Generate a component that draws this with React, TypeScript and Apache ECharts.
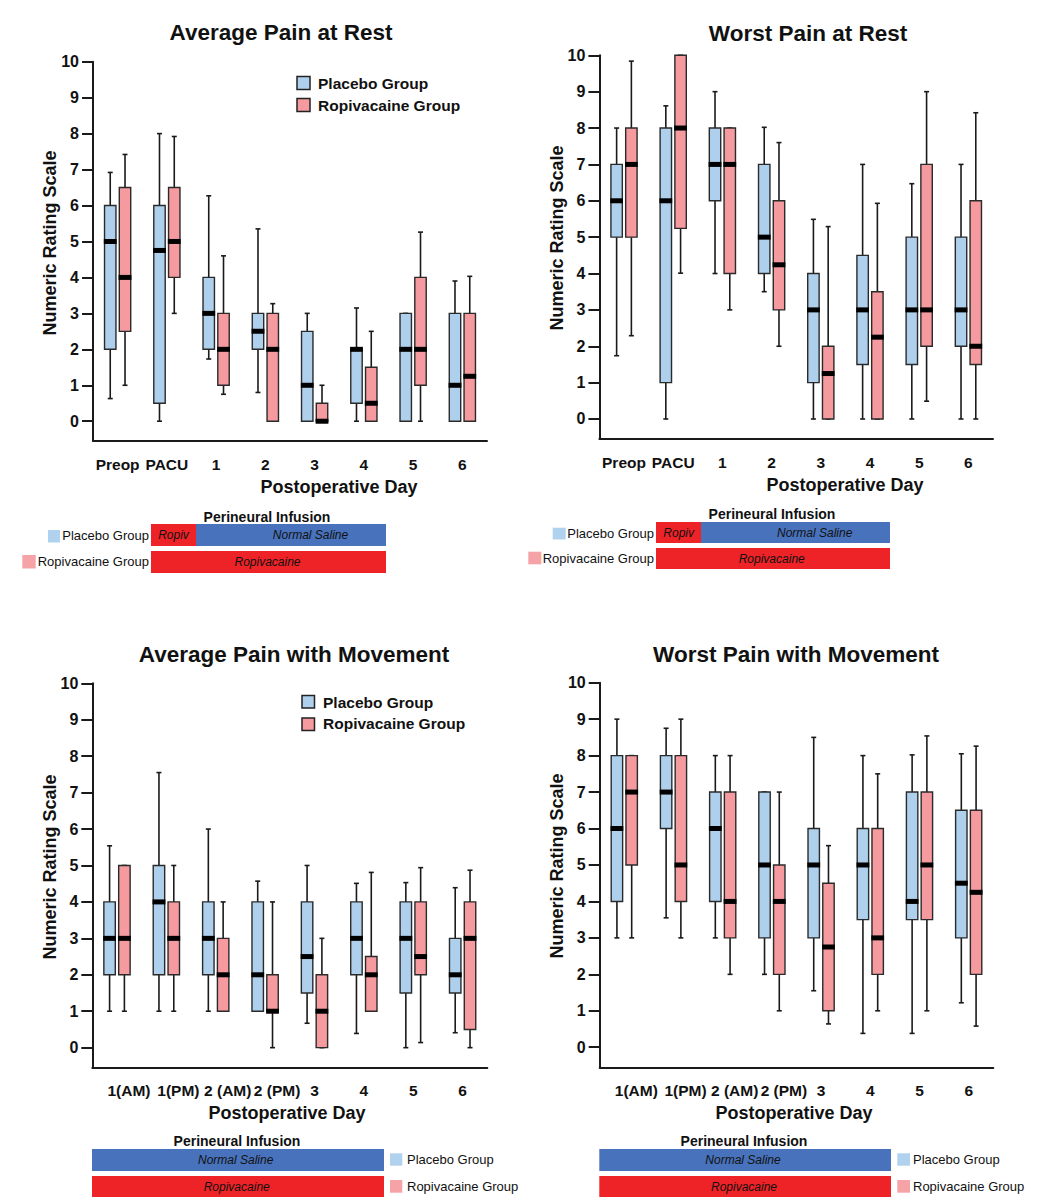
import React, { useEffect, useRef } from "react";
import * as echarts from "echarts";

const FONT = '"Liberation Sans", Arial, Helvetica, sans-serif';

// Categories / ticks
const restCategories = ["Preop", "PACU", "1", "2", "3", "4", "5", "6"];
const movementCategories = ["1(AM)", "1(PM)", "2 (AM)", "2 (PM)", "3", "4", "5", "6"];
const yTickValues = [0, 1, 2, 3, 4, 5, 6, 7, 8, 9, 10];

// Box data: [low whisker, Q1, median, Q3, high whisker]
const avgRestPlacebo = [
  [0.63, 2, 5, 6, 6.92], [0, 0.5, 4.75, 6, 8], [1.73, 2, 3, 4, 6.27], [0.8, 2, 2.5, 3, 5.35],
  [0, 0, 1, 2.5, 3], [0, 0.5, 2, 2, 3.15], [0, 0, 2, 3, 3], [0, 0, 1, 3, 3.9],
];
const avgRestRopivacaine = [
  [1, 2.5, 4, 6.5, 7.42], [3, 4, 5, 6.5, 7.92], [0.75, 1, 2, 3, 4.6], [0, 0, 2, 3, 3.27],
  [0, 0, 0, 0.5, 1], [0, 0, 0.5, 1.5, 2.5], [0, 1, 2, 4, 5.26], [0, 0, 1.25, 3, 4.03],
];
const worstRestPlacebo = [
  [1.74, 5, 6, 7, 8], [0, 1, 6, 8, 8.61], [4, 6, 7, 8, 9], [3.5, 4, 5, 7, 8.02],
  [0, 1, 3, 4, 5.49], [0, 1.5, 3, 4.5, 7], [0, 1.5, 3, 5, 6.47], [0, 2, 3, 5, 7],
];
const worstRestRopivacaine = [
  [2.29, 5, 7, 8, 9.84], [4.01, 5.24, 8, 10, 10], [3, 4, 7, 8, 8], [2, 3, 4.24, 6, 7.6],
  [0, 0, 1.25, 2, 5.29], [0, 0, 2.25, 3.5, 5.93], [0.49, 2, 3, 7, 9], [0, 1.5, 2, 6, 8.42],
];
const avgMovePlacebo = [
  [1, 2, 3, 4, 5.54], [1, 2, 4, 5, 7.55], [1, 2, 3, 4, 6], [1, 1, 2, 4, 4.57],
  [0.67, 1.5, 2.5, 4, 5], [0.39, 2, 3, 4, 4.51], [0, 1.5, 3, 4, 4.53], [0.41, 1.5, 2, 3, 4.39],
];
const avgMoveRopivacaine = [
  [1, 2, 3, 5, 5], [1, 2, 3, 4, 5], [1, 1, 2, 3, 4], [0, 1, 1, 2, 4],
  [0, 0, 1, 2, 3], [1, 1, 2, 2.5, 4.81], [0.14, 2, 2.5, 4, 4.94], [0, 0.5, 3, 4, 4.87],
];
const worstMovePlacebo = [
  [3, 4, 6, 8, 9], [3.55, 6, 7, 8, 8.75], [3, 4, 6, 7, 8], [2, 3, 5, 7, 7],
  [1.55, 3, 5, 6, 8.5], [0.38, 3.5, 5, 6, 8], [0.38, 3.5, 4, 7, 8.02], [1.22, 3, 4.5, 6.5, 8.05],
];
const worstMoveRopivacaine = [
  [3, 5, 7, 8, 8], [3, 4, 5, 8, 9], [2, 3, 4, 7, 8], [1, 2, 4, 5, 7],
  [0.64, 1, 2.75, 4.5, 5.53], [1, 2, 3, 6, 7.5], [1, 3.5, 5, 7, 8.54], [0.58, 2, 4.25, 6.5, 8.26],
];

const titles = ["Average Pain at Rest", "Worst Pain at Rest", "Average Pain with Movement", "Worst Pain with Movement"];
const groupNames = ["Placebo Group", "Ropivacaine Group"];

const BLUE_BOX = "#aed0ec";
const PINK_BOX = "#f59a9e";
const BAR_BLUE = "#4872bb";
const BAR_RED = "#ed2327";
const INK = "#111";

const panels = [
  { cats: restCategories, placebo: avgRestPlacebo, ropi: avgRestRopivacaine, grid: { left: 93, top: 61.7, width: 394, height: 379.3 } },
  { cats: restCategories, placebo: worstRestPlacebo, ropi: worstRestRopivacaine, grid: { left: 599.4, top: 55.3, width: 393.6, height: 383.7 } },
  { cats: movementCategories, placebo: avgMovePlacebo, ropi: avgMoveRopivacaine, grid: { left: 92.3, top: 683.3, width: 395, height: 384.4 } },
  { cats: movementCategories, placebo: worstMovePlacebo, ropi: worstMoveRopivacaine, grid: { left: 599.7, top: 682.7, width: 393.6, height: 384.6 } },
];

function makeRender(offsetFrac: number, widthFrac: number, fill: string) {
  return (params: any, api: any) => {
    const idx = api.value(0);
    const low = api.coord([idx, api.value(1)]);
    const q1 = api.coord([idx, api.value(2)]);
    const med = api.coord([idx, api.value(3)]);
    const q3 = api.coord([idx, api.value(4)]);
    const high = api.coord([idx, api.value(5)]);
    const band = api.size([1, 0])[0];
    const cx = low[0] + offsetFrac * band;
    const w = widthFrac * band;
    const cap = 5;
    const ls = { stroke: "#1a1a1a", lineWidth: 1.6 };
    return {
      type: "group",
      children: [
        { type: "line", shape: { x1: cx, y1: high[1], x2: cx, y2: q3[1] }, style: ls },
        { type: "line", shape: { x1: cx, y1: q1[1], x2: cx, y2: low[1] }, style: ls },
        { type: "line", shape: { x1: cx - cap / 2, y1: high[1], x2: cx + cap / 2, y2: high[1] }, style: ls },
        { type: "line", shape: { x1: cx - cap / 2, y1: low[1], x2: cx + cap / 2, y2: low[1] }, style: ls },
        {
          type: "rect",
          shape: { x: cx - w / 2, y: q3[1], width: w, height: q1[1] - q3[1] },
          style: { fill, stroke: "#2a2a2a", lineWidth: 1.4 },
        },
        {
          type: "rect",
          shape: { x: cx - w / 2 - 0.7, y: med[1] - 2.5, width: w + 1.4, height: 5 },
          style: { fill: "#000" },
        },
      ],
    };
  };
}

function txt(text: string, x: number, y: number, size: number, opts: any = {}) {
  return {
    type: "text",
    x,
    y,
    rotation: opts.rotation || 0,
    silent: true,
    style: {
      text,
      fill: opts.fill || INK,
      font: `${opts.italic ? "italic " : ""}${opts.bold ? "bold " : ""}${size}px ${FONT}`,
      align: opts.align || "center",
      verticalAlign: "middle",
    },
  };
}

function rect(x: number, y: number, w: number, h: number, fill: string, stroke?: string) {
  return {
    type: "rect",
    silent: true,
    shape: { x, y, width: w, height: h },
    style: stroke ? { fill, stroke, lineWidth: 1.5 } : { fill },
  };
}

export default function App() {
  const ref = useRef<HTMLDivElement>(null);
  useEffect(() => {
    document.body.style.margin = "0";
    if (!ref.current) return;
    const chart = echarts.init(ref.current, undefined, { renderer: "svg" });

    const grids: any[] = [];
    const xAxes: any[] = [];
    const yAxes: any[] = [];
    const series: any[] = [];

    panels.forEach((p, i) => {
      grids.push({ ...p.grid, containLabel: false, outerBoundsMode: "none" });
      const isMove = p.cats === movementCategories;
      xAxes.push({
        type: "category",
        gridIndex: i,
        data: p.cats,
        boundaryGap: true,
        axisLine: { onZero: false, lineStyle: { color: "#1a1a1a", width: 2 } },
        axisTick: { alignWithLabel: true, length: 10, lineStyle: { color: "#1a1a1a", width: 2 } },
        axisLabel: {
          interval: 0,
          margin: 15,
          color: INK,
          fontFamily: FONT,
          fontWeight: "bold",
          fontSize: 15.5,
          formatter: (v: string) => (isMove && v.indexOf("(") >= 0 ? `{p|${v}}` : v),
          rich: { p: { padding: [0, 0, 0, 24], fontFamily: FONT, fontWeight: "bold", fontSize: 15.5, color: INK } },
        },
        splitLine: { show: false },
      });
      yAxes.push({
        type: "value",
        gridIndex: i,
        min: -0.55,
        max: 10,
        axisLine: { show: true, lineStyle: { color: "#1a1a1a", width: 2 } },
        axisTick: { show: true, length: 11, customValues: yTickValues, lineStyle: { color: "#1a1a1a", width: 2 } },
        axisLabel: { customValues: yTickValues, margin: 14, color: INK, fontFamily: FONT, fontWeight: "bold", fontSize: 16 },
        splitLine: { show: false },
      });
      const toRows = (arr: number[][]) => arr.map((b, k) => [k, ...b]);
      series.push({
        type: "custom",
        name: groupNames[0],
        xAxisIndex: i,
        yAxisIndex: i,
        clip: false,
        encode: { x: 0, y: [1, 2, 3, 4, 5] },
        data: toRows(p.placebo),
        renderItem: makeRender(-0.15, 0.232, BLUE_BOX),
      });
      series.push({
        type: "custom",
        name: groupNames[1],
        xAxisIndex: i,
        yAxisIndex: i,
        clip: false,
        encode: { x: 0, y: [1, 2, 3, 4, 5] },
        data: toRows(p.ropi),
        renderItem: makeRender(0.15, 0.232, PINK_BOX),
      });
    });

    const g: any[] = [];
    // Titles
    g.push(txt(titles[0], 281, 32, 22.5, { bold: true }));
    g.push(txt(titles[1], 808, 33, 22.5, { bold: true }));
    g.push(txt(titles[2], 294, 654, 22.5, { bold: true }));
    g.push(txt(titles[3], 796, 654, 22.5, { bold: true }));
    // Axis names
    const yName = "Numeric Rating Scale";
    const xName = "Postoperative Day";
    g.push(txt(yName, 50, 243, 18, { bold: true, rotation: Math.PI / 2 }));
    g.push(txt(yName, 557, 238, 18, { bold: true, rotation: Math.PI / 2 }));
    g.push(txt(yName, 50, 867, 18, { bold: true, rotation: Math.PI / 2 }));
    g.push(txt(yName, 557, 866, 18, { bold: true, rotation: Math.PI / 2 }));
    g.push(txt(xName, 339, 487, 18, { bold: true }));
    g.push(txt(xName, 845, 485, 18, { bold: true }));
    g.push(txt(xName, 287, 1113, 18, { bold: true }));
    g.push(txt(xName, 794, 1113, 18, { bold: true }));
    // Legends (panels 1 & 3)
    g.push(rect(297, 76.5, 13, 13, BLUE_BOX, "#222"));
    g.push(txt(groupNames[0], 318, 83, 15.5, { bold: true, align: "left" }));
    g.push(rect(297, 98.5, 13, 13, PINK_BOX, "#222"));
    g.push(txt(groupNames[1], 318, 105, 15.5, { bold: true, align: "left" }));
    g.push(rect(302, 695.5, 12.5, 12.5, BLUE_BOX, "#222"));
    g.push(txt(groupNames[0], 323, 702, 15.5, { bold: true, align: "left" }));
    g.push(rect(302, 718, 12.5, 12.5, PINK_BOX, "#222"));
    g.push(txt(groupNames[1], 323, 723.5, 15.5, { bold: true, align: "left" }));

    // Infusion schematics
    const LB = "#b0d2ee";
    const LP = "#f5a3a7";
    const IT = 12;
    // panel 1
    g.push(txt("Perineural Infusion", 267, 517, 14, { bold: true }));
    g.push(rect(151, 524, 45, 22, BAR_RED));
    g.push(rect(196, 524, 190, 22, BAR_BLUE));
    g.push(txt("Ropiv", 173.5, 535, IT, { italic: true }));
    g.push(txt("Normal Saline", 310.5, 535, IT, { italic: true }));
    g.push(rect(151, 551, 235, 22, BAR_RED));
    g.push(txt("Ropivacaine", 267.5, 562, IT, { italic: true }));
    g.push(rect(48, 530, 12, 12.5, LB));
    g.push(txt(groupNames[0], 149, 535.5, 13, { align: "right" }));
    g.push(rect(22.3, 555, 13.4, 13.4, LP));
    g.push(txt(groupNames[1], 149, 561.5, 13, { align: "right" }));
    // panel 2
    g.push(txt("Perineural Infusion", 772, 514, 14, { bold: true }));
    g.push(rect(656, 522, 45, 21, BAR_RED));
    g.push(rect(701, 522, 189, 21, BAR_BLUE));
    g.push(txt("Ropiv", 678.7, 532.7, IT, { italic: true }));
    g.push(txt("Normal Saline", 814.7, 532.7, IT, { italic: true }));
    g.push(rect(656, 548, 234, 21, BAR_RED));
    g.push(txt("Ropivacaine", 771.7, 558.5, IT, { italic: true }));
    g.push(rect(552.7, 527.7, 13, 11.8, LB));
    g.push(txt(groupNames[0], 654, 533, 13, { align: "right" }));
    g.push(rect(528.3, 551.7, 13, 12.6, LP));
    g.push(txt(groupNames[1], 654, 558, 13, { align: "right" }));
    // panel 3
    g.push(txt("Perineural Infusion", 237, 1141, 14, { bold: true }));
    g.push(rect(92, 1149, 292, 22, BAR_BLUE));
    g.push(txt("Normal Saline", 235.7, 1160, IT, { italic: true }));
    g.push(rect(92, 1176, 292, 21, BAR_RED));
    g.push(txt("Ropivacaine", 236.7, 1186.5, IT, { italic: true }));
    g.push(rect(390, 1153.3, 12.3, 12.4, LB));
    g.push(txt(groupNames[0], 407, 1159.5, 13, { align: "left" }));
    g.push(rect(390, 1180, 12.3, 12.7, LP));
    g.push(txt(groupNames[1], 407, 1186.5, 13, { align: "left" }));
    // panel 4
    g.push(txt("Perineural Infusion", 744, 1141, 14, { bold: true }));
    g.push(rect(599.3, 1149, 291.7, 22, BAR_BLUE));
    g.push(txt("Normal Saline", 743, 1160, IT, { italic: true }));
    g.push(rect(599.3, 1176, 291.7, 21, BAR_RED));
    g.push(txt("Ropivacaine", 744, 1186.5, IT, { italic: true }));
    g.push(rect(897.3, 1153.3, 12.7, 12.4, LB));
    g.push(txt(groupNames[0], 913, 1159.5, 13, { align: "left" }));
    g.push(rect(897.3, 1180, 12.7, 12.7, LP));
    g.push(txt(groupNames[1], 913, 1186.5, 13, { align: "left" }));

    chart.setOption({
      animation: false,
      backgroundColor: "#fff",
      textStyle: { fontFamily: FONT },
      grid: grids,
      xAxis: xAxes,
      yAxis: yAxes,
      series,
      graphic: g,
    });
    return () => chart.dispose();
  }, []);
  return <div ref={ref} style={{ width: 1044, height: 1203 }} />;
}
